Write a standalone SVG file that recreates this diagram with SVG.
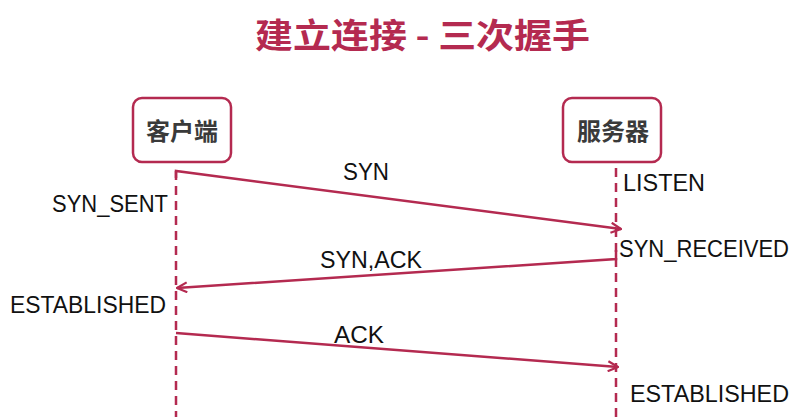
<svg xmlns="http://www.w3.org/2000/svg" width="800" height="417" viewBox="0 0 800 417">
<defs>
<style>
.title{font-family:"Noto Sans CJK SC","Noto Sans",sans-serif;font-weight:bold;font-size:34px;fill:#b42a50}
.box{fill:#ffffff;stroke:#b42a50;stroke-width:2.5}
.boxt{font-family:"Noto Sans CJK SC","Noto Sans",sans-serif;font-weight:bold;font-size:24px;fill:#3a3a3a;text-anchor:middle}
.life{stroke:#b42a50;stroke-width:2.5;stroke-dasharray:9 6;fill:none}
.msg{stroke:#b42a50;stroke-width:2.5;fill:none;marker-end:url(#ah)}
.lbl{font-family:"Liberation Sans",Arial,sans-serif;font-size:24px;fill:#111111}
</style>
<marker id="ah" viewBox="0 0 12 12" refX="11" refY="6" markerWidth="12" markerHeight="12" markerUnits="userSpaceOnUse" orient="auto">
<path d="M1,1 L11,6 L1,11" fill="none" stroke="#b42a50" stroke-width="2.2"/>
</marker>
</defs>
<rect width="800" height="417" fill="#ffffff"/>
<text class="title" x="255" y="48" textLength="335" lengthAdjust="spacingAndGlyphs">建立连接 - 三次握手</text>
<g id="client">
<rect class="box" x="133" y="98" width="98" height="64" rx="9"/>
<text class="boxt" x="182" y="140">客户端</text>
</g>
<g id="server">
<rect class="box" x="563" y="98" width="98" height="64" rx="9"/>
<text class="boxt" x="613" y="140">服务器</text>
</g>
<g id="lifelines">
<line class="life" x1="176" y1="171" x2="176" y2="417"/>
<line class="life" x1="616" y1="168" x2="616" y2="417"/>
</g>
<g id="connectors">
<path class="msg" d="M176,178 L176,171 L621,229"/>
<path class="msg" d="M616,250 L616,259 L177,288"/>
<path class="msg" d="M176,333 L618,367"/>
</g>
<g id="labels">
<text class="lbl" x="343" y="180" textLength="46" lengthAdjust="spacingAndGlyphs">SYN</text>
<text class="lbl" x="320" y="268" textLength="102" lengthAdjust="spacingAndGlyphs">SYN,ACK</text>
<text class="lbl" x="334" y="343" textLength="50" lengthAdjust="spacingAndGlyphs">ACK</text>
<text class="lbl" x="52" y="212" textLength="116" lengthAdjust="spacingAndGlyphs">SYN_SENT</text>
<text class="lbl" x="10" y="313" textLength="156" lengthAdjust="spacingAndGlyphs">ESTABLISHED</text>
<text class="lbl" x="623" y="191" textLength="82" lengthAdjust="spacingAndGlyphs">LISTEN</text>
<text class="lbl" x="619" y="257" font-size="21" textLength="170" lengthAdjust="spacingAndGlyphs">SYN_RECEIVED</text>
<text class="lbl" x="630" y="402" textLength="159" lengthAdjust="spacingAndGlyphs">ESTABLISHED</text>
</g>
</svg>
